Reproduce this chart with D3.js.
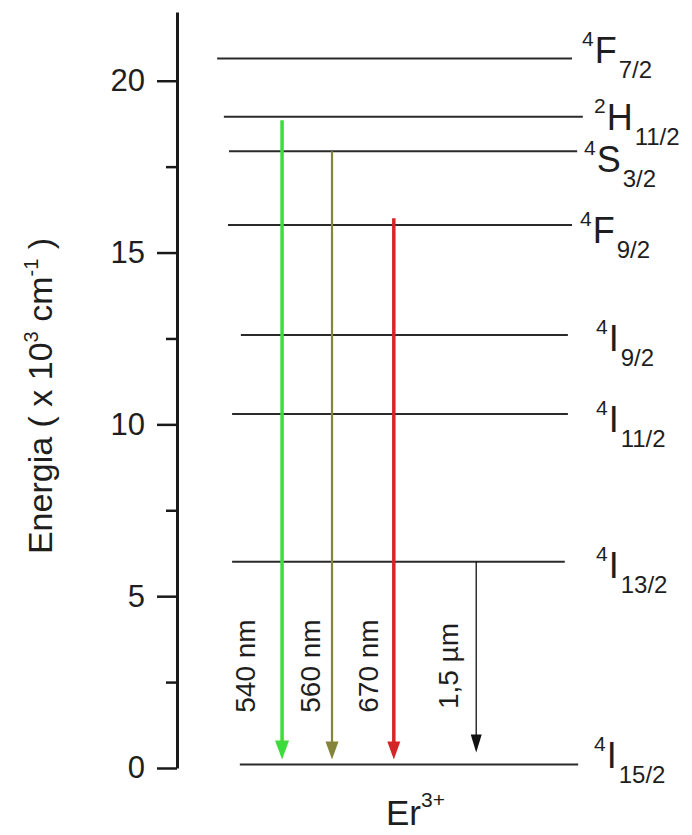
<!DOCTYPE html>
<html>
<head>
<meta charset="utf-8">
<script src="https://cdn.jsdelivr.net/npm/d3@7"></script>
<style>
  body { margin: 0; background: #fff; }
  text { font-family: "Liberation Sans", Arial, sans-serif; fill: #1e1e1e; }
</style>
</head>
<body>
<svg id="chart" width="692" height="835"></svg>
<script>
// Er3+ energy levels, in units of 10^3 cm^-1
const levelMultiplicity = ["4", "4", "4", "4", "4", "4", "2", "4"];
const levelLetter       = ["I", "I", "I", "I", "F", "S", "H", "F"];
const levelJ            = ["15/2", "13/2", "11/2", "9/2", "9/2", "3/2", "11/2", "7/2"];
const levelEnergy       = [0.1, 6.0, 10.3, 12.6, 15.8, 17.95, 18.95, 20.65];

// Radiative transitions down to the ground state
const emissionLabels = ["540 nm", "560 nm", "670 nm", "1,5 \u00b5m"];
const emissionFrom   = [18.85, 17.95, 16.0, 6.0];
const emissionTo     = [0.25, 0.25, 0.25, 0.45];

// Axis ticks
const majorTicks = [0, 5, 10, 15, 20];
const minorTicks = [2.5, 7.5, 12.5, 17.5];

// ---- layout and styling ----
const W = 692, H = 835;
const axisX = 177, yTop = 12, yBottom = 768;
const svg = d3.select("#chart");

const y = d3.scaleLinear().domain([0, 22]).range([yBottom, yTop]);
// horizontal layout in fractions of the space right of the axis
const x = d3.scaleLinear().domain([0, 1]).range([axisX, W]);

// level line extents and label placement
const levelStart = [0.122, 0.107, 0.107, 0.124, 0.099, 0.101, 0.091, 0.078];
const levelEnd   = [0.779, 0.753, 0.759, 0.759, 0.767, 0.777, 0.788, 0.767];
const labelX     = [594, 596, 596, 596, 580, 584, 594, 582];
const labelDy    = [3, 16, 18, 16, 18, 21, 13, 5];

// arrow columns and styles
const arrowSlot   = [0.204, 0.301, 0.421, 0.581];
const arrowColor  = ["#3ddc3d", "#84843a", "#d42626", "#111111"];
const arrowWidth  = [3.5, 2.2, 3.5, 1.3];
const arrowHeadW  = [14, 13, 13, 11];
const arrowHeadL  = [19, 18, 18, 18];
const labelOffset = [-27, -12, -16, -18];

// ---- vertical axis ----
const axisG = svg.append("g").attr("transform", `translate(${axisX},0)`);
axisG.call(d3.axisLeft(y).tickValues(majorTicks).tickSize(20).tickSizeOuter(0)
  .tickPadding(12).tickFormat(d3.format("d")));
axisG.call(g => {
  g.select(".domain").attr("stroke", "#1a1a1a").attr("stroke-width", 3);
  g.selectAll(".tick line").attr("stroke", "#1a1a1a").attr("stroke-width", 2.5);
  g.selectAll(".tick text").style("font-size", "31px").attr("fill", "#222")
    .style("font-family", "'Liberation Sans', Arial, sans-serif");
});
const minorG = svg.append("g").attr("transform", `translate(${axisX},0)`);
minorG.call(d3.axisLeft(y).tickValues(minorTicks).tickSize(11).tickSizeOuter(0).tickFormat(""));
minorG.select(".domain").remove();
minorG.selectAll(".tick line").attr("stroke", "#1a1a1a").attr("stroke-width", 2.5);

// axis title
const yTitle = svg.append("text")
  .attr("transform", `translate(52,396) rotate(-90)`)
  .attr("text-anchor", "middle")
  .style("font-size", "34px");
yTitle.append("tspan").text("Energia ( x 10");
yTitle.append("tspan").attr("dy", -14).style("font-size", "20px").text("3");
yTitle.append("tspan").attr("dy", 14).text(" cm");
yTitle.append("tspan").attr("dy", -14).style("font-size", "20px").text("-1");
yTitle.append("tspan").attr("dy", 14).text(" )");

// ---- energy levels ----
const levels = levelEnergy.map((e, i) => ({
  e, mult: levelMultiplicity[i], letter: levelLetter[i], j: levelJ[i], i
}));

svg.append("g").selectAll("line").data(levels).join("line")
  .attr("x1", d => x(levelStart[d.i]))
  .attr("x2", d => x(levelEnd[d.i]))
  .attr("y1", d => y(d.e))
  .attr("y2", d => y(d.e))
  .attr("stroke", "#2a2a2a")
  .attr("stroke-width", 2);

const lbl = svg.append("g").selectAll("text").data(levels).join("text")
  .attr("x", d => labelX[d.i])
  .attr("y", d => y(d.e) + labelDy[d.i] - 17);
lbl.append("tspan").style("font-size", "21px").text(d => d.mult);
lbl.append("tspan").attr("dx", 1).attr("dy", 17).style("font-size", "36px").text(d => d.letter);
lbl.append("tspan").attr("dx", 2).attr("dy", 15).style("font-size", "24px").text(d => d.j);

// ---- emission arrows ----
const emissions = emissionLabels.map((label, i) => ({
  label, from: emissionFrom[i], to: emissionTo[i], i
}));

const arrows = svg.append("g").selectAll("g").data(emissions).join("g");
arrows.append("line")
  .attr("x1", d => x(arrowSlot[d.i]))
  .attr("x2", d => x(arrowSlot[d.i]))
  .attr("y1", d => y(d.from))
  .attr("y2", d => y(d.to) - arrowHeadL[d.i] + 2)
  .attr("stroke", d => arrowColor[d.i])
  .attr("stroke-width", d => arrowWidth[d.i]);
arrows.append("path")
  .attr("d", d => {
    const cx = x(arrowSlot[d.i]), tip = y(d.to);
    const hw = arrowHeadW[d.i] / 2, hl = arrowHeadL[d.i];
    return `M${cx - hw},${tip - hl} L${cx + hw},${tip - hl} L${cx},${tip} Z`;
  })
  .attr("fill", d => arrowColor[d.i]);

arrows.append("text")
  .attr("transform", d => `translate(${x(arrowSlot[d.i]) + labelOffset[d.i]},666) rotate(-90)`)
  .attr("text-anchor", "middle")
  .style("font-size", "28px")
  .text(d => d.label);

// ---- ion label ----
const ion = svg.append("text").attr("x", 386).attr("y", 825).style("font-size", "35px");
ion.append("tspan").text("Er");
ion.append("tspan").attr("dy", -18).style("font-size", "21px").text("3+");
</script>
</body>
</html>
